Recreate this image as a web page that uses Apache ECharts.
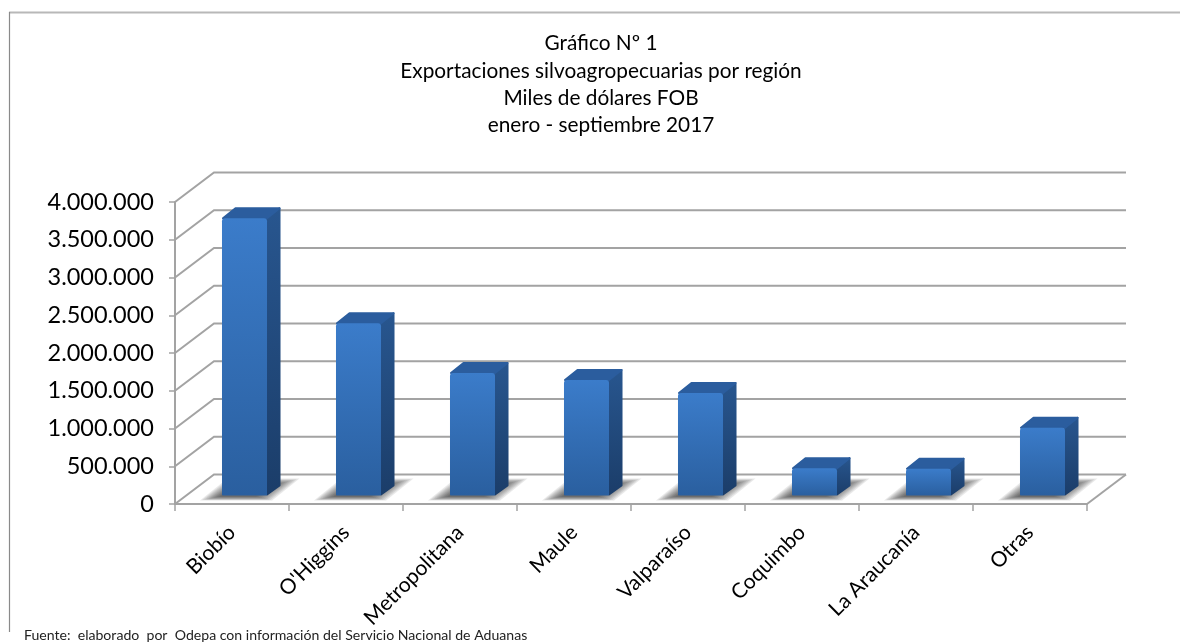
<!DOCTYPE html>
<html><head><meta charset="utf-8">
<style>html,body{margin:0;padding:0;background:#fff}#c{width:1180px;height:642px}</style>
<script src="https://cdn.jsdelivr.net/npm/echarts@6/dist/echarts.min.js"></script>
</head><body><div id="c"></div>
<script>
var categories = ["Biobío","O'Higgins","Metropolitana","Maule","Valparaíso","Coquimbo","La Araucanía","Otras"];
var values = [3671000,2281000,1622000,1530000,1358000,362000,355000,898000];
var yTicks = [0,500000,1000000,1500000,2000000,2500000,3000000,3500000,4000000];
var titleLines = ["Gráfico Nº 1","Exportaciones silvoagropecuarias por región","Miles de dólares FOB","enero - septiembre 2017"];
var sourceNote = "Fuente:  elaborado  por  Odepa con información del Servicio Nacional de Aduanas";

var DX = 39, DY = -29.5;          // wall depth
var BX = 12.5, BY = -8.5;         // bar offset inside the depth
var SX = 13.5, SY = -11;          // bar's own depth
var FONT = 'Lato';
var GRID = '#a3a3a3';
var SHADOW_LAYERS = 10;

function vGrad(c0,c1){return {type:'linear',x:0,y:0,x2:0,y2:1,colorStops:[{offset:0,color:c0},{offset:1,color:c1}]};}
function face(points, fill, stroke) {
  return {type:'polygon', shape:{points:points}, silent:true,
    style:{fill:fill, stroke:stroke||fill, lineWidth:2, lineJoin:'round'}};
}

function renderWall(params, api) {
  var p = api.coord([0, api.value(0)]);
  var size = api.size([1,0])[0];
  var x0 = p[0] - size/2, y = p[1], x1 = x0 + size*categories.length;
  var ls = {stroke:GRID, lineWidth:2, fill:null};
  var kids = [
    {type:'polyline', shape:{points:[[x0,y],[x0+DX,y+DY],[x1+DX,y+DY]]}, style:ls, silent:true}
  ];
  if (api.value(0) === 0) {
    kids.push({type:'line', shape:{x1:x1,y1:y,x2:x1+DX,y2:y+DY}, style:ls, silent:true});
  }
  return {type:'group', children:kids};
}

function renderShadow(params, api) {
  var base = api.coord([api.value(0), 0]);
  var w = api.size([1,0])[0]*0.395;
  var xl = base[0]-w/2+BX, xr = base[0]+w/2+BX, yb = base[1]+BY;
  var kids = [];
  for (var t=0; t<SHADOW_LAYERS; t++) {
    var bot = yb+5-t*0.45, top = yb-17+t*0.7, s = 1.25;
    var lx = xl-22+t*2.2, rx = xr+5-t*1.8;
    kids.push({type:'polygon', silent:true,
      shape:{points:[[lx,bot],[lx+(yb+5-top)*s,top],[rx+(yb+5-top)*s,top],[rx,bot]]},
      style:{fill:'rgba(50,50,50,0.1)', shadowColor:'rgba(50,50,50,0.1)', shadowBlur:3}});
  }
  return {type:'group', children:kids};
}

function renderBar(params, api) {
  var v = api.value(1);
  var base = api.coord([api.value(0), 0]);
  var top = api.coord([api.value(0), v]);
  var w = api.size([1,0])[0]*0.395;
  var xl = base[0]-w/2+BX, xr = base[0]+w/2+BX, yb = base[1]+BY, yt = top[1]+BY;
  return {type:'group', children:[
    face([[xr,yt+1],[xr+SX-1,yt+SY+1],[xr+SX-1,yb+SY+1],[xr,yb-1]], vGrad('#28568f','#1b3d69')),
    face([[xl+1,yt],[xl+SX,yt+SY+1],[xr+SX-1,yt+SY+1],[xr,yt]], '#2b5d9e'),
    {type:'rect', shape:{x:xl,y:yt,width:w,height:yb-yt,r:[3,3,1,1]},
      style:{fill:vGrad('#3b7cca','#2a5f9f')}, silent:true}
  ]};
}

var chart = echarts.init(document.getElementById('c'), null, {renderer:'canvas'});
chart.setOption({
  animation:false,
  backgroundColor:'#fff',
  title:titleLines.map(function(t,i){
    return {text:t, left:601, top:33+i*27.4, textAlign:'center', padding:0,
      textStyle:{fontFamily:FONT, fontSize:20.8, fontWeight:'normal', color:'#000'}};
  }),
  graphic:[
    {type:'line', silent:true, shape:{x1:9,y1:12.5,x2:1180,y2:12.5}, style:{stroke:'#b8b8b8', lineWidth:2}},
    {type:'line', silent:true, shape:{x1:9.5,y1:12,x2:9.5,y2:632}, style:{stroke:'#8a8a8a', lineWidth:1.2}},
    {type:'text', silent:true, left:24, top:628,
      style:{text:sourceNote, fontFamily:FONT, fontSize:14.1, fill:'#222'}}
  ],
  grid:{left:175, right:93, top:202, bottom:138, containLabel:false},
  xAxis:{type:'category', data:categories, boundaryGap:true,
    axisLine:{lineStyle:{color:GRID,width:2}},
    axisTick:{show:true, alignWithLabel:false, length:7, lineStyle:{color:GRID,width:1.5}},
    axisLabel:{interval:0, rotate:45, margin:25, fontFamily:FONT, fontSize:21, color:'#000', hideOverlap:false},
    splitLine:{show:false}},
  yAxis:{type:'value', min:0, max:4000000, interval:500000,
    axisLine:{show:true, lineStyle:{color:GRID,width:2}},
    axisTick:{show:true, length:6, lineStyle:{color:GRID,width:1.5}},
    splitLine:{show:false},
    axisLabel:{margin:21, fontFamily:FONT, fontSize:23.5, color:'#000',
      formatter:function(v){return String(v).replace(/\B(?=(\d{3})+(?!\d))/g,'.');}}},
  series:[
    {type:'custom', name:'wall', clip:false, z:1, data:yTicks.map(function(t){return [t];}),
      encode:{y:0}, renderItem:renderWall, silent:true},
    {type:'custom', name:'shadow', clip:false, z:2, data:values.map(function(v,i){return [i,v];}),
      encode:{x:0,y:1}, renderItem:renderShadow, silent:true},
    {type:'custom', name:'Exportaciones', clip:false, z:3, data:values.map(function(v,i){return [i,v];}),
      encode:{x:0,y:1}, renderItem:renderBar}
  ]
});
</script></body></html>
